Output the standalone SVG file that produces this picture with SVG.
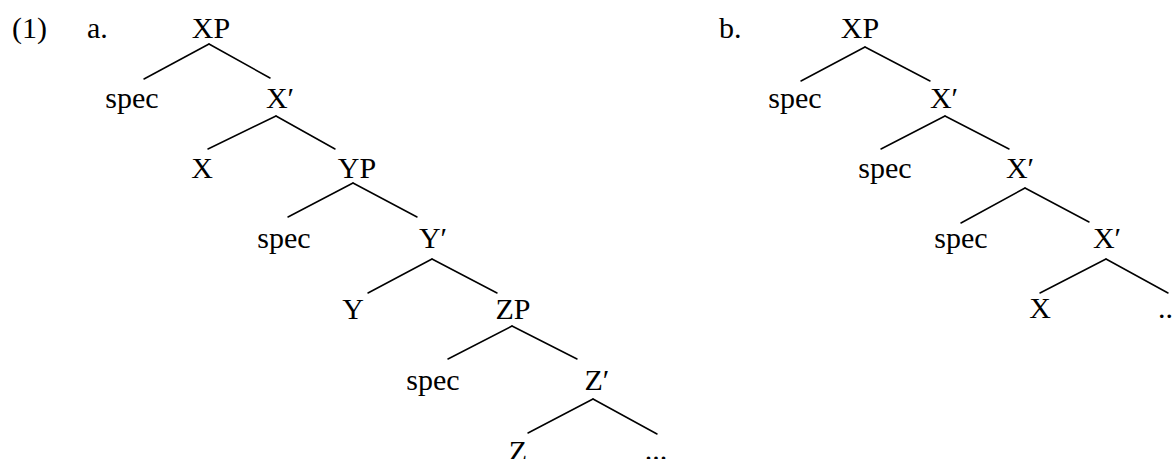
<svg xmlns="http://www.w3.org/2000/svg" width="1174" height="459" viewBox="0 0 1174 459">
<style>
text{font-family:"Liberation Serif","DejaVu Serif",serif;font-size:30px;fill:#000}
.m{text-anchor:middle}
.edges line{stroke:#000;stroke-width:1.5;stroke-linecap:round}
</style>
<rect width="1174" height="459" fill="#fff"/>
<g id="labels">
<text x="12" y="38">(1)</text>
<text x="87" y="38">a.</text>
<text x="719" y="38">b.</text>
</g>
<g id="treeA">
<g id="a-XP"><text class="m" x="211" y="38">XP</text></g>
<g id="a-spec1"><text class="m" x="132" y="108">spec</text></g>
<g id="a-Xbar"><text class="m" x="280" y="108">X′</text></g>
<g id="a-X"><text class="m" x="202" y="178">X</text></g>
<g id="a-YP"><text class="m" x="357" y="178">YP</text></g>
<g id="a-spec2"><text class="m" x="284" y="248">spec</text></g>
<g id="a-Ybar"><text class="m" x="433" y="248">Y′</text></g>
<g id="a-Y"><text class="m" x="353" y="319">Y</text></g>
<g id="a-ZP"><text class="m" x="513" y="319">ZP</text></g>
<g id="a-spec3"><text class="m" x="433" y="390">spec</text></g>
<g id="a-Zbar"><text class="m" x="597" y="390">Z′</text></g>
<g id="a-Z"><text class="m" x="518" y="461">Z</text></g>
<g id="a-dots"><text class="m" x="656" y="460">...</text></g>
</g>
<g id="treeB">
<g id="b-XP"><text class="m" x="860" y="38">XP</text></g>
<g id="b-spec1"><text class="m" x="795" y="108">spec</text></g>
<g id="b-Xbar1"><text class="m" x="944" y="108">X′</text></g>
<g id="b-spec2"><text class="m" x="885" y="178">spec</text></g>
<g id="b-Xbar2"><text class="m" x="1020" y="178">X′</text></g>
<g id="b-spec3"><text class="m" x="961" y="248">spec</text></g>
<g id="b-Xbar3"><text class="m" x="1107" y="248">X′</text></g>
<g id="b-X"><text class="m" x="1040" y="318">X</text></g>
<g id="b-dots"><text x="1158" y="318">...</text></g>
</g>
<g class="edges" id="connectors">
<line x1="209" y1="44" x2="144" y2="79"/><line x1="209" y1="44" x2="270" y2="78"/>
<line x1="276" y1="116" x2="208" y2="149"/><line x1="276" y1="116" x2="335" y2="149"/>
<line x1="353" y1="183" x2="288" y2="217"/><line x1="353" y1="183" x2="417" y2="217"/>
<line x1="432" y1="259" x2="368" y2="293"/><line x1="432" y1="259" x2="497" y2="293"/>
<line x1="512" y1="326" x2="448" y2="359"/><line x1="512" y1="326" x2="577" y2="359"/>
<line x1="593" y1="399" x2="528" y2="433"/><line x1="593" y1="399" x2="657" y2="434"/>
<line x1="865" y1="47" x2="801" y2="81"/><line x1="865" y1="47" x2="930" y2="81"/>
<line x1="945" y1="116" x2="881" y2="149"/><line x1="945" y1="116" x2="1009" y2="149"/>
<line x1="1025" y1="188" x2="961" y2="223"/><line x1="1025" y1="188" x2="1089" y2="222"/>
<line x1="1106" y1="259" x2="1040" y2="293"/><line x1="1106" y1="259" x2="1168" y2="293"/>
</g>
</svg>
